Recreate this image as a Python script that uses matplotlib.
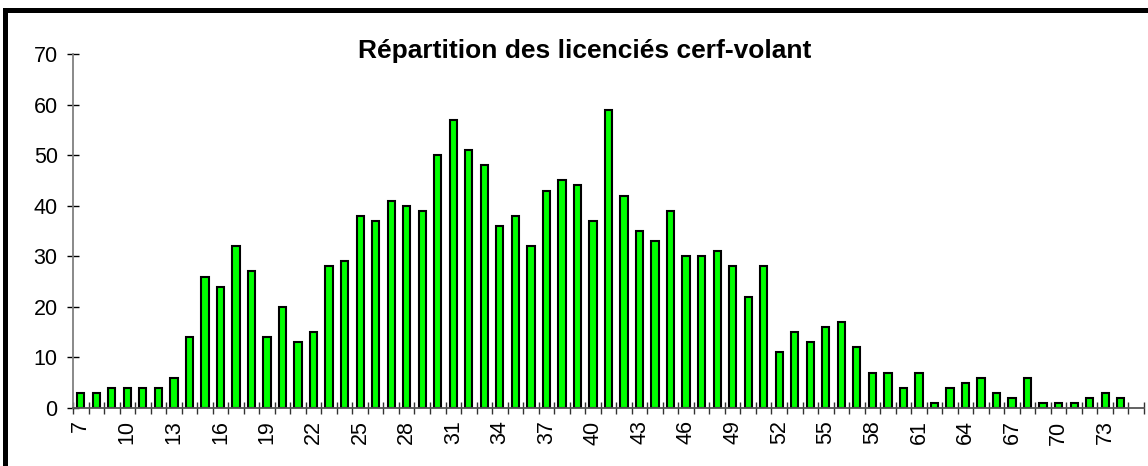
import numpy as np
import matplotlib.pyplot as plt
from matplotlib.ticker import FixedLocator
from matplotlib.lines import Line2D

plt.rcParams['font.family'] = ['Liberation Sans', 'DejaVu Sans']

# ages 7..74 and number of licensees
ages = list(range(7, 75))
counts = [3, 3, 4, 4, 4, 4, 6, 14, 26, 24, 32, 27, 14, 20, 13, 15, 28, 29,
          38, 37, 41, 40, 39, 50, 57, 51, 48, 36, 38, 32, 43, 45, 44, 37, 59,
          42, 35, 33, 39, 30, 30, 31, 28, 22, 28, 11, 15, 13, 16, 17, 12, 7,
          7, 4, 7, 1, 4, 5, 6, 3, 2, 6, 1, 1, 1, 2, 3, 2]
tick_ages = list(range(7, 76, 3))
title = "Répartition des licenciés cerf-volant"

W, H = 1148, 466
fig = plt.figure(figsize=(W / 100, H / 100), dpi=100)
ax = fig.add_axes([73 / W, (H - 408) / H, (1144 - 73) / W, (408 - 54) / H])

ax.bar(ages, counts, width=0.47, color='#00FF00', edgecolor='black', linewidth=1.5)

ax.set_xlim(6.5, 75.5)
ax.set_ylim(0, 70)
ax.set_yticks(range(0, 71, 10))
ax.set_xticks(tick_ages)
ax.set_xticklabels([str(a) for a in tick_ages], rotation=90)
ax.xaxis.set_minor_locator(FixedLocator(np.arange(6.5, 76, 1)))

ax.tick_params(axis='x', which='major', length=0, pad=9, labelsize=15.5)
ax.tick_params(axis='x', which='minor', direction='inout', length=9, width=1, color='#333333')
ax.tick_params(axis='y', direction='inout', length=9, width=1, color='black', pad=6.5, labelsize=15.5)

for s in ['top', 'right']:
    ax.spines[s].set_visible(False)
ax.spines['left'].set_color('#808080')
ax.spines['left'].set_linewidth(1.3)
ax.spines['bottom'].set_color('#555555')
ax.spines['bottom'].set_linewidth(1.3)

fig.text(585 / W, (H - 51) / H, title, ha='center', va='center',
         fontsize=19, fontweight='bold')

# thick chart-area border (top and left visible)
fig.add_artist(Line2D([5 / W, 5 / W, 1], [0, (H - 9.5) / H, (H - 9.5) / H],
                      transform=fig.transFigure, color='black', linewidth=3.6,
                      solid_joinstyle='miter'))

fig.savefig('out.png', dpi=100)
